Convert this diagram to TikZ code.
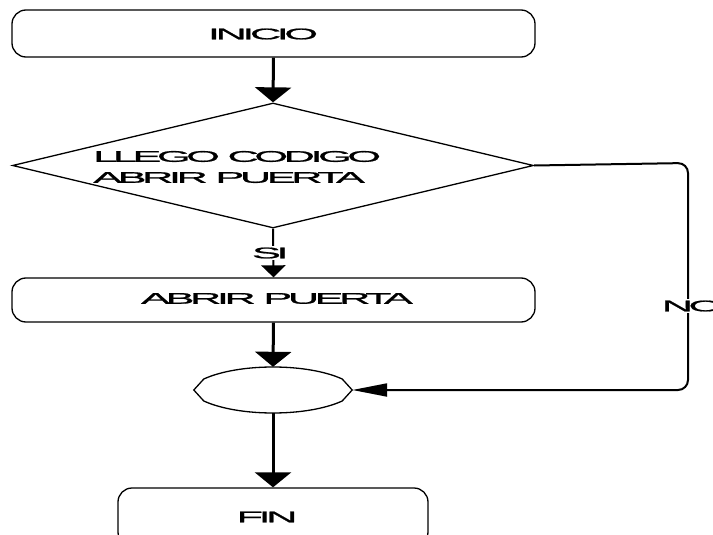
\documentclass[tikz,border=0pt]{standalone}
\usepackage{fontspec}
\newfontfamily\flowfont{Liberation Sans}[FakeStretch=2.8,LetterSpace=-29,FakeBold=1.2]
\usetikzlibrary{arrows.meta,shapes.geometric,calc}
\begin{document}
\begin{tikzpicture}[x=1pt,y=-1pt,
  outline/.style={draw, line width=1.3pt},
  box/.style={outline, rectangle, rounded corners=14pt, inner sep=0pt},
  lbl/.style={font=\flowfont\fontsize{15.5}{21}\selectfont, inner sep=0pt},
  flow/.style={line width=3pt, -{Triangle[width=36pt,length=15pt]}},
  thinflow/.style={line width=2pt, -{Triangle[width=24pt,length=12pt]}},
  backflow/.style={line width=2pt, rounded corners=10pt, -{Triangle[width=13pt,length=35pt]}}
]
\useasboundingbox (0,0) rectangle (713,535);
\clip (0,0) rectangle (713,535);

% shapes
\node[box, minimum width=523pt, minimum height=47pt] (inicio) at (273.5,33.5) {};
\node[outline, diamond, inner sep=0pt, minimum width=521pt, minimum height=125pt] (dec) at (273,165.5) {};
\node[box, minimum width=523pt, minimum height=44pt] (abrir) at (273.5,300) {};
\node[ellipse, inner sep=0pt, minimum width=158pt, minimum height=46pt] (join) at (273,390) {};
\node[box, minimum width=310pt, minimum height=58pt] (fin) at (273,517) {};

% connector outline: octagon-like oval
\draw[outline]
  (join.west) -- ([shift={(10,-11)}]join.west)
  .. controls ([shift={(45,-27)}]join.west) and ([shift={(-45,-27)}]join.east) ..
  ([shift={(-10,-11)}]join.east) -- (join.east)
  -- ([shift={(-10,11)}]join.east)
  .. controls ([shift={(-45,27)}]join.east) and ([shift={(45,27)}]join.west) ..
  ([shift={(10,11)}]join.west) -- cycle;

% texts
\node[lbl] (tInicio) at (263,34) {INICIO};
\node[lbl, anchor=west, align=left] (tDec) at (93,167) {LLEGO CODIGO\\ABRIR PUERTA};
\node[lbl] (tAbrir) at (277,298.5) {ABRIR PUERTA};
\node[lbl] (tFin) at (267,517) {FIN};

% connectors
\draw[flow] (inicio.south) -- (dec.north);
\draw[thinflow] (dec.south) -- (abrir.north)
  node[lbl, midway, xshift=-3pt, fill=white, inner sep=1.5pt] (si) {SI};
\draw[flow] (abrir.south) -- (join.north);
\draw[flow] (join.south) -- (fin.north);
\coordinate (bend) at (688,163);
\draw[backflow] (dec.east) -- (bend) |- (join.east);
\node[lbl, anchor=west, fill=white, inner sep=1.5pt] (no) at (660,306) {NO};
\end{tikzpicture}
\end{document}
